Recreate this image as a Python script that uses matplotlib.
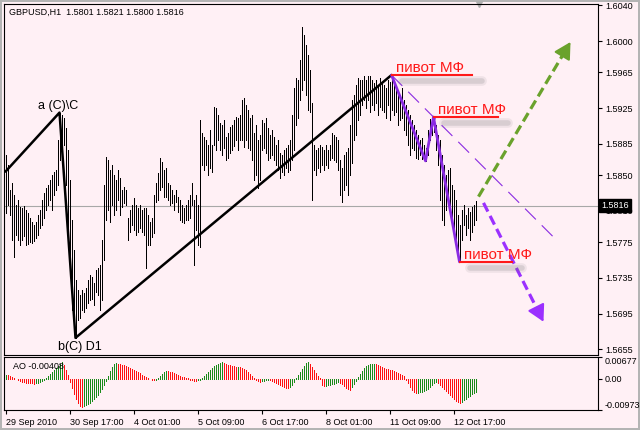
import matplotlib
matplotlib.use('Agg')

import matplotlib.pyplot as plt
import matplotlib.transforms as mtransforms
import numpy as np

plt.rcParams['font.family'] = ['Liberation Sans', 'DejaVu Sans']
plt.rcParams['lines.scale_dashes'] = False

symbol = "GBPUSD,H1"
last_ohlc = [1.5801, 1.5821, 1.5800, 1.5816]

# H1 bars, 29 Sep 09:00 .. 13 Oct 04:00
highs = [
    1.5873, 1.5861, 1.5833, 1.5841, 1.5828, 1.5817, 1.5822, 1.5814, 1.5813, 1.5815,
    1.5811, 1.5808, 1.5802, 1.5798, 1.5794, 1.5798, 1.5805, 1.5811, 1.5822, 1.5830,
    1.5836, 1.5839, 1.5845, 1.5850, 1.5854, 1.5856, 1.5889, 1.5920, 1.5917, 1.5914,
    1.5903, 1.5878, 1.5845, 1.5800, 1.5766, 1.5733, 1.5721, 1.5716, 1.5721, 1.5718,
    1.5724, 1.5733, 1.5738, 1.5736, 1.5729, 1.5744, 1.5746, 1.5750, 1.5777, 1.5839,
    1.5870, 1.5867, 1.5856, 1.5861, 1.5850, 1.5845, 1.5856, 1.5847, 1.5833, 1.5837,
    1.5833, 1.5802, 1.5811, 1.5817, 1.5824, 1.5817, 1.5813, 1.5817, 1.5811, 1.5813,
    1.5813, 1.5805, 1.5798, 1.5802, 1.5828, 1.5841, 1.5852, 1.5869, 1.5865, 1.5856,
    1.5858, 1.5841, 1.5839, 1.5833, 1.5828, 1.5833, 1.5826, 1.5822, 1.5817, 1.5813,
    1.5817, 1.5822, 1.5828, 1.5841, 1.5822, 1.5828, 1.5817, 1.5912, 1.5897, 1.5893,
    1.5889, 1.5884, 1.5901, 1.5884, 1.5926, 1.5925, 1.5917, 1.5908, 1.5906, 1.5912,
    1.5893, 1.5897, 1.5904, 1.5906, 1.5912, 1.5915, 1.5914, 1.5917, 1.5934, 1.5936,
    1.5928, 1.5923, 1.5914, 1.5917, 1.5897, 1.5906, 1.5889, 1.5895, 1.5912, 1.5908,
    1.5914, 1.5903, 1.5895, 1.5901, 1.5893, 1.5884, 1.5889, 1.5875, 1.5873, 1.5878,
    1.5880, 1.5884, 1.5889, 1.5917, 1.5948, 1.5959, 1.5957, 1.5979, 1.6016, 1.6007,
    1.5996, 1.5984, 1.5968, 1.5931, 1.5884, 1.5878, 1.5880, 1.5884, 1.5882, 1.5878,
    1.5884, 1.5878, 1.5884, 1.5897, 1.5895, 1.5893, 1.5889, 1.5867, 1.5858, 1.5873,
    1.5876, 1.5880, 1.5906, 1.5934, 1.5940, 1.5951, 1.5959, 1.5957, 1.5957, 1.5961,
    1.5957, 1.5961, 1.5961, 1.5957, 1.5953, 1.5957, 1.5951, 1.5959, 1.5954, 1.5951,
    1.5948, 1.5957, 1.5954, 1.5962, 1.5954, 1.5951, 1.5945, 1.5940, 1.5948, 1.5934,
    1.5928, 1.5923, 1.5917, 1.5912, 1.5906, 1.5901, 1.5895, 1.5889, 1.5892, 1.5884,
    1.5880, 1.5901, 1.5913, 1.5914, 1.5915, 1.5906, 1.5895, 1.5889, 1.5873, 1.5861,
    1.5850, 1.5856, 1.5858, 1.5839, 1.5833, 1.5822, 1.5805, 1.5794, 1.5811, 1.5817,
    1.5805, 1.5813, 1.5809, 1.5814, 1.5817, 1.5821,
]
lows = [
    1.5808, 1.5817, 1.5805, 1.5777, 1.5758, 1.5783, 1.5777, 1.5772, 1.5777, 1.5782,
    1.5772, 1.5773, 1.5775, 1.5774, 1.5776, 1.5780, 1.5783, 1.5791, 1.5794, 1.5802,
    1.5811, 1.5817, 1.5822, 1.5811, 1.5828, 1.5833, 1.5839, 1.5867, 1.5878, 1.5884,
    1.5839, 1.5789, 1.5744, 1.5699, 1.5677, 1.5668, 1.5688, 1.5690, 1.5699, 1.5697,
    1.5701, 1.5707, 1.5710, 1.5712, 1.5705, 1.5719, 1.5716, 1.5699, 1.5710, 1.5755,
    1.5800, 1.5811, 1.5798, 1.5817, 1.5805, 1.5811, 1.5822, 1.5805, 1.5814, 1.5819,
    1.5817, 1.5777, 1.5786, 1.5794, 1.5789, 1.5783, 1.5786, 1.5791, 1.5786, 1.5783,
    1.5746, 1.5772, 1.5772, 1.5781, 1.5785, 1.5820, 1.5822, 1.5833, 1.5837, 1.5826,
    1.5826, 1.5822, 1.5817, 1.5819, 1.5811, 1.5820, 1.5809, 1.5800, 1.5798, 1.5796,
    1.5800, 1.5800, 1.5802, 1.5817, 1.5750, 1.5789, 1.5772, 1.5770, 1.5861, 1.5856,
    1.5861, 1.5850, 1.5858, 1.5854, 1.5884, 1.5878, 1.5889, 1.5878, 1.5873, 1.5880,
    1.5867, 1.5869, 1.5875, 1.5878, 1.5883, 1.5889, 1.5878, 1.5889, 1.5889, 1.5882,
    1.5889, 1.5880, 1.5878, 1.5867, 1.5845, 1.5850, 1.5836, 1.5845, 1.5878, 1.5880,
    1.5875, 1.5867, 1.5869, 1.5873, 1.5867, 1.5861, 1.5856, 1.5847, 1.5854, 1.5850,
    1.5858, 1.5854, 1.5856, 1.5867, 1.5878, 1.5906, 1.5914, 1.5934, 1.5945, 1.5957,
    1.5940, 1.5923, 1.5921, 1.5822, 1.5856, 1.5850, 1.5858, 1.5854, 1.5861, 1.5856,
    1.5861, 1.5858, 1.5867, 1.5869, 1.5867, 1.5865, 1.5856, 1.5828, 1.5820, 1.5833,
    1.5839, 1.5828, 1.5850, 1.5864, 1.5889, 1.5895, 1.5912, 1.5917, 1.5928, 1.5934,
    1.5925, 1.5934, 1.5921, 1.5928, 1.5923, 1.5931, 1.5917, 1.5926, 1.5923, 1.5921,
    1.5914, 1.5928, 1.5912, 1.5923, 1.5917, 1.5921, 1.5906, 1.5912, 1.5914, 1.5901,
    1.5895, 1.5884, 1.5873, 1.5880, 1.5878, 1.5869, 1.5868, 1.5873, 1.5868, 1.5867,
    1.5866, 1.5873, 1.5889, 1.5895, 1.5898, 1.5878, 1.5861, 1.5822, 1.5800, 1.5794,
    1.5811, 1.5822, 1.5805, 1.5794, 1.5786, 1.5772, 1.5761, 1.5753, 1.5777, 1.5794,
    1.5783, 1.5791, 1.5777, 1.5786, 1.5794, 1.5800,
]

# Awesome Oscillator
ao = [
    0.00125, 0.00109, 0.00093, 0.00062, 0.00031,
    -0.00016, -0.00047, -0.00078, -0.00093, -0.00109, -0.00125, -0.00130, -0.00140,
    -0.00145, -0.00156, -0.00140, -0.00125, -0.00093,
    -0.00062, -0.00031, 0.00031, 0.00093, 0.00156, 0.00218,
    0.00280, 0.00342, 0.00405, 0.00467, 0.00514,
    0.00436, 0.00280, 0.00125,
    -0.00093, -0.00280, -0.00467, -0.00623, -0.00747, -0.00841, -0.00872,
    -0.00841, -0.00809, -0.00778, -0.00747, -0.00685, -0.00623, -0.00560, -0.00498,
    -0.00405, -0.00311, -0.00187, -0.00062,
    0.00093, 0.00249, 0.00374, 0.00467,
    0.00483, 0.00467, 0.00451, 0.00436, 0.00420, 0.00405, 0.00374, 0.00342, 0.00311,
    0.00280, 0.00249, 0.00218, 0.00187,
    0.00125, 0.00093, 0.00062, 0.00031, 0.00000, -0.00031, -0.00047, -0.00031,
    0.00031, 0.00093, 0.00156, 0.00218, 0.00249,
    0.00233, 0.00218, 0.00202, 0.00187, 0.00156, 0.00125, 0.00093, 0.00062, 0.00047,
    0.00031, 0.00016,
    -0.00031, -0.00047, -0.00062, -0.00065, -0.00047, -0.00031,
    0.00031, 0.00093, 0.00156, 0.00218, 0.00280, 0.00342, 0.00405, 0.00436, 0.00467,
    0.00498, 0.00514,
    0.00498, 0.00467, 0.00436, 0.00420, 0.00405, 0.00389, 0.00374, 0.00380, 0.00358,
    0.00342, 0.00311, 0.00280, 0.00218, 0.00156, 0.00093, 0.00031,
    -0.00031, -0.00062, -0.00093, -0.00078, -0.00062, -0.00047, -0.00031,
    -0.00047, -0.00062, -0.00093, -0.00125, -0.00156, -0.00187, -0.00218, -0.00249,
    -0.00280, -0.00296,
    -0.00249, -0.00187, -0.00093,
    0.00031, 0.00125, 0.00218, 0.00311, 0.00405, 0.00483, 0.00529,
    0.00467, 0.00374, 0.00280, 0.00187, 0.00093, 0.00031,
    -0.00187, -0.00233,
    -0.00218, -0.00202, -0.00187, -0.00171, -0.00156, -0.00125, -0.00093,
    -0.00125, -0.00156, -0.00218, -0.00280, -0.00327, -0.00342,
    -0.00249, -0.00156, -0.00062,
    0.00062,
    0.00156, 0.00249, 0.00342, 0.00405, 0.00436, 0.00451, 0.00467, 0.00473,
    0.00451, 0.00436, 0.00405, 0.00374, 0.00342, 0.00311, 0.00296, 0.00280, 0.00265,
    0.00249, 0.00218, 0.00187, 0.00156, 0.00125, 0.00093,
    -0.00031, -0.00125, -0.00249, -0.00342, -0.00405, -0.00451,
    -0.00436, -0.00420, -0.00405, -0.00374, -0.00342, -0.00311, -0.00249, -0.00187,
    -0.00140, -0.00109,
    -0.00125, -0.00187, -0.00249, -0.00311, -0.00374, -0.00436, -0.00498, -0.00560,
    -0.00623, -0.00685, -0.00716, -0.00747,
    -0.00716, -0.00669, -0.00623, -0.00576, -0.00529, -0.00483, -0.00436, -0.00408,
]
assert len(highs) == len(lows) == len(ao) == 236

time_labels = ["29 Sep 2010", "30 Sep 17:00", "4 Oct 01:00", "5 Oct 09:00",
               "6 Oct 17:00", "8 Oct 01:00", "11 Oct 09:00", "12 Oct 17:00"]
label_step = 32

price_ticks = [1.6040, 1.6000, 1.5965, 1.5925, 1.5885, 1.5850, 1.5810,
               1.5775, 1.5735, 1.5695, 1.5655]
ao_ticks = [-0.00973, 0.0, 0.00677]
ao_tick_labels = ["-0.00973", "0.00", "0.00677"]

# zigzag pivots: bar index / price
zz_black_idx = [0, 27, 35, 193]
zz_black_px = [1.5854, 1.5920, 1.5668, 1.5962]
zz_purple_idx = [193, 210, 214, 227]
zz_purple_px = [1.5962, 1.5866, 1.5915, 1.5753]

# pivot labels: pivot bar, price, underline length in bars
pivot_idx = [193, 214, 227]
pivot_px = [1.5962, 1.5915, 1.5753]
pivot_len = [40, 32, 26]

# forecast arrows (bar index, price)
up_arrow = [(236.5, 1.5826), (282.5, 1.5999)]
down_arrow = [(239.0, 1.5819), (269.0, 1.5686)]
trend_end = 275

bg = '#fff0f5'
W, H = 640, 430
fig = plt.figure(figsize=(6.4, 4.3), dpi=100, facecolor=bg)
fig.patch.set_edgecolor('#b4b4b4')
fig.patch.set_linewidth(1.5)

ax = fig.add_axes([4 / W, 1 - 355 / H, 594 / W, 351 / H], facecolor=bg)
ax2 = fig.add_axes([4 / W, 1 - 410 / H, 594 / W, 53 / H], facecolor=bg, sharex=ax)

idx = np.arange(len(highs))

# price bars (1 px wide)
ax.vlines(idx, lows, highs, color='black', lw=0.72, antialiased=False)
ax.axhline(last_ohlc[3], color='#a8a8a8', lw=0.8, zorder=0)

# zigzag
ax.plot(zz_black_idx, zz_black_px, color='black', lw=1.8, solid_capstyle='round')
ax.plot(zz_purple_idx, zz_purple_px, color='#8a2be2', lw=2.0, solid_capstyle='round')

# trend line through the two upper pivots
slope = (zz_purple_px[2] - zz_purple_px[0]) / (zz_purple_idx[2] - zz_purple_idx[0])
ax.plot([zz_purple_idx[0], trend_end],
        [zz_purple_px[0], zz_purple_px[0] + slope * (trend_end - zz_purple_idx[0])],
        color='#8a2be2', lw=0.8, dashes=[11, 6])

# forecast arrows
for arr, col in [(up_arrow, '#6aa22c'), (down_arrow, '#9b30ff')]:
    (x0, y0), (x1, y1) = arr
    ax.plot([x0, x0 + (x1 - x0) * 0.93], [y0, y0 + (y1 - y0) * 0.93],
            color=col, lw=2.3, dashes=[7, 3.5], clip_on=False)
    ax.annotate('', xy=(x1, y1), xytext=(x0 + (x1 - x0) * 0.9, y0 + (y1 - y0) * 0.9),
                arrowprops=dict(arrowstyle='-|>,head_length=1.0,head_width=0.55',
                                color=col, lw=1.5, shrinkA=0, shrinkB=0),
                annotation_clip=False)

# pivot labels with underline + soft shadow
shadow = mtransforms.offset_copy(ax.transData, fig=fig, x=6, y=-6, units='dots')
for i, p, n in zip(pivot_idx, pivot_px, pivot_len):
    for lw, a in [(7, 0.10), (4, 0.18)]:
        ax.plot([i + 2, i + n + 2], [p, p], color='#707070', lw=lw, alpha=a,
                transform=shadow, solid_capstyle='round')
    ax.plot([i, i + n], [p, p], color='#ff1a1a', lw=1.5)
    ax.annotate('пивот МФ', xy=(i, p), xytext=(4, 3), textcoords='offset pixels',
                color='#ff1a1a', fontsize=11, ha='left', va='baseline')

ax.annotate('a (C)\\C', xy=(zz_black_idx[1], zz_black_px[1]), xytext=(-1, 4),
            textcoords='offset pixels', fontsize=9, ha='center', va='baseline')
ax.annotate('b(C) D1', xy=(zz_black_idx[2], zz_black_px[2]), xytext=(4, -3),
            textcoords='offset pixels', fontsize=9, ha='center', va='top')

ax.set_xlim(-0.75, 296.25)
ax.set_ylim(1.56488, 1.60415)
ax.yaxis.tick_right()
ax.set_yticks(price_ticks)
ax.set_yticklabels([f"{t:.4f}" for t in price_ticks])
ax.tick_params(axis='y', direction='out', length=3, width=0.8, pad=2, labelsize=6.5)
ax.tick_params(axis='x', bottom=False, labelbottom=False)

# chart shift marker
ax.plot([236.5], [1.60415], marker='v', color='#b0b0b0', markersize=5, clip_on=False)

# current price box
blend = mtransforms.blended_transform_factory(ax.transAxes, ax.transData)
ax.text(1.006, last_ohlc[3], f"{last_ohlc[3]:.4f}", transform=blend, color='white',
        fontsize=6.5, ha='left', va='center', zorder=5,
        bbox=dict(boxstyle='square,pad=0.25', fc='black', ec='black'))

# AO panel
colors = ['#1a8a1a'] + ['#1a8a1a' if ao[k] > ao[k - 1] else '#ff1010'
                        for k in range(1, len(ao))]
ax2.vlines(idx, 0, ao, colors=colors, lw=0.72, antialiased=False)
ax2.set_ylim(-0.00973, 0.00677)
ax2.yaxis.tick_right()
ax2.set_yticks(ao_ticks)
ax2.set_yticklabels(ao_tick_labels)
ax2.tick_params(axis='y', direction='out', length=3, width=0.8, pad=2, labelsize=6.5)
tl = ax2.get_yticklabels()
tl[0].set_va('bottom')
tl[2].set_va('top')
ax2.text(9 / 594, 0.82, f"AO {ao[-1]:.5f}", transform=ax2.transAxes,
         fontsize=6.5, ha='left', va='center')

ax2.set_xticks(idx[::label_step])
ax2.set_xticklabels(time_labels, ha='left')
ax2.tick_params(axis='x', direction='out', length=3, width=0.8, pad=3, labelsize=6.5)

for a in (ax, ax2):
    for s in a.spines.values():
        s.set_linewidth(0.8)
        s.set_color('black')

fig.text(9 / W, 1 - 12 / H, f"{symbol}  " + " ".join(f"{v:.4f}" for v in last_ohlc),
         fontsize=6.5, ha='left', va='center')

fig.savefig('out.png', dpi=100, facecolor=bg, edgecolor=fig.patch.get_edgecolor())
